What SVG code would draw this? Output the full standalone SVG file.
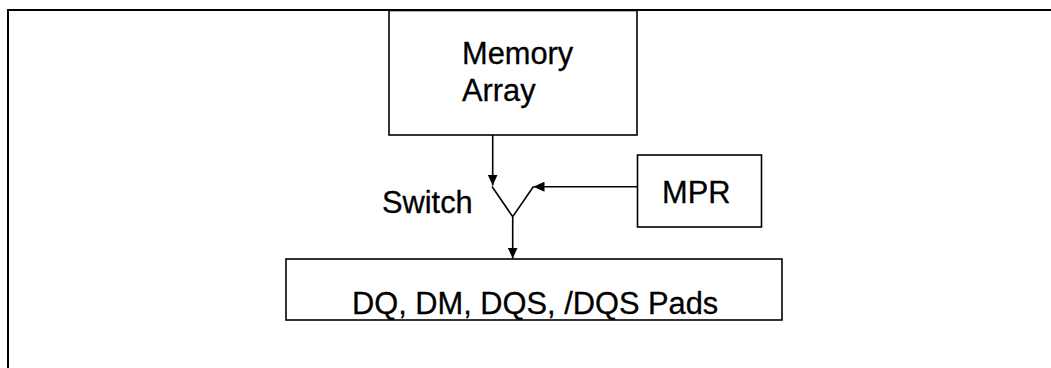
<svg xmlns="http://www.w3.org/2000/svg" width="1051" height="368" viewBox="0 0 1051 368">
<style>
  .box { fill: #fff; stroke: #000; stroke-width: 1.6; }
  .lbl { font-family: "Liberation Sans", Arial, Helvetica, sans-serif; font-size: 30.8px; fill: #000; stroke: #000; stroke-width: 0.3; }
  .wire { fill: none; stroke: #000; stroke-width: 1.6; }
  .frame { fill: none; stroke: #000; stroke-width: 2; }
</style>
<defs>
  <marker id="ah" viewBox="0 0 11 10" refX="11" refY="5" markerWidth="11" markerHeight="10" markerUnits="userSpaceOnUse" orient="auto">
    <path d="M0,0 L11,5 L0,10 Z" fill="#000"/>
  </marker>
</defs>
<rect width="1051" height="368" fill="#fff"/>
<path class="frame" d="M8,368 L8,10 L1051,10"/>
<g id="memory-array">
  <rect class="box" x="389" y="10.5" width="248" height="124.5"/>
  <text class="lbl" x="462" y="64">Memory</text>
  <text class="lbl" x="462" y="101">Array</text>
</g>
<g id="mpr">
  <rect class="box" x="637.5" y="155" width="124" height="72"/>
  <text class="lbl" x="662" y="202.5">MPR</text>
</g>
<g id="pads">
  <rect class="box" x="286" y="259" width="496" height="61"/>
  <text class="lbl" x="352" y="314">DQ, DM, DQS, /DQS Pads</text>
</g>
<g id="switch">
  <text class="lbl" x="382" y="212.5">Switch</text>
  <path class="wire" d="M492,186.5 L512.7,216.7 L533.5,186.5"/>
</g>
<g id="connectors">
  <line class="wire" x1="492.7" y1="135" x2="492.7" y2="185.5" marker-end="url(#ah)"/>
  <line class="wire" x1="637.5" y1="186.7" x2="533.5" y2="186.7" marker-end="url(#ah)"/>
  <line class="wire" x1="512.7" y1="216.7" x2="512.7" y2="258.5" marker-end="url(#ah)"/>
</g>
</svg>
